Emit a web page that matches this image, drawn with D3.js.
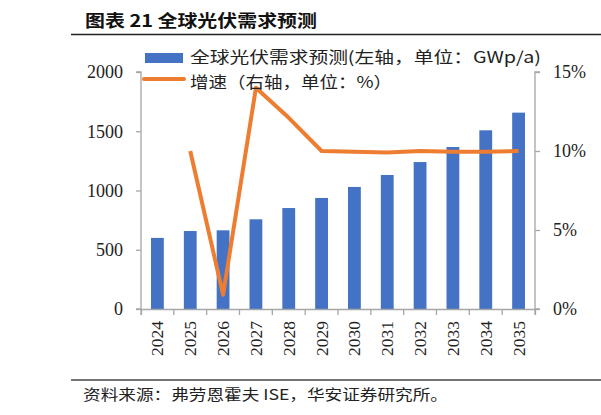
<!DOCTYPE html>
<html>
<head>
<meta charset="utf-8">
<script src="https://cdn.jsdelivr.net/npm/d3@7"></script>
<style>
body { margin: 0; background: #fff; }
</style>
</head>
<body>
<div id="chart"></div>
<script>
// data
var years = ["2024","2025","2026","2027","2028","2029","2030","2031","2032","2033","2034","2035"]
var demand = [600, 658, 664, 757, 852, 937, 1030, 1131, 1240, 1367, 1508, 1657]
var growthYears = ["2025","2026","2027","2028","2029","2030","2031","2032","2033","2034","2035"]
var growth = [10.0, 0.9, 14.0, 12.1, 10.0, 9.95, 9.9, 10.0, 9.95, 9.95, 10.0]
var leftTicks = [0, 500, 1000, 1500, 2000]
var rightTicks = [0, 5, 10, 15]

var width = 601, height = 415
var plotL = 141, plotR = 535, plotT = 72, plotB = 309

var svg = d3.select("#chart").append("svg")
    .attr("width", width)
    .attr("height", height)

var serif = "'Liberation Serif', 'Times New Roman', serif"
var cjk = "'Noto Sans CJK SC', sans-serif"

// header / footer
svg.append("text").attr("x", 85).attr("y", 27).text("图表 21 全球光伏需求预测")
    .attr("textLength", 232).attr("lengthAdjust", "spacingAndGlyphs")
    .style("font-family", cjk).style("font-size", "17px").style("font-weight", "bold").style("fill", "#111")
svg.append("line").attr("x1", 71).attr("x2", 601).attr("y1", 34.5).attr("y2", 34.5)
    .style("stroke", "#222").style("stroke-width", 1.5)
svg.append("line").attr("x1", 71).attr("x2", 601).attr("y1", 380).attr("y2", 380)
    .style("stroke", "#444").style("stroke-width", 1.5)
svg.append("text").attr("x", 83).attr("y", 400).text("资料来源：弗劳恩霍夫 ISE，华安证券研究所。")
    .attr("textLength", 365).attr("lengthAdjust", "spacingAndGlyphs")
    .style("font-family", cjk).style("font-size", "14.5px").style("fill", "#222")

var x = d3.scaleBand().domain(years).range([plotL, plotR]).paddingInner(0.61).paddingOuter(0.305)
var xb = d3.scaleBand().domain(years).range([plotL, plotR])
var y = d3.scaleLinear().domain([0, 2000]).range([plotB, plotT])
var y2 = d3.scaleLinear().domain([0, 15]).range([plotB, plotT])

// bars
svg.selectAll("rect.bar").data(demand).enter().append("rect")
    .attr("class", "bar")
    .attr("x", function(d, i) { return x(years[i]) })
    .attr("width", x.bandwidth())
    .attr("y", function(d) { return y(d) })
    .attr("height", function(d) { return plotB - y(d) })
    .style("fill", "#4472C4")

// axes
var axisColor = "#a6a6a6"
var gl = svg.append("g").attr("transform", "translate(" + plotL + ",0)")
    .call(d3.axisLeft(y).tickValues(leftTicks).tickSize(5).tickPadding(13).tickFormat(d3.format("d")))
var gr = svg.append("g").attr("transform", "translate(" + plotR + ",0)")
    .call(d3.axisRight(y2).tickValues(rightTicks).tickSize(5).tickPadding(13).tickFormat(function(d) { return d + "%" }))
var gx = svg.append("g").attr("transform", "translate(0," + plotB + ")")
    .call(d3.axisBottom(xb).tickSize(6).tickSizeOuter(6).tickFormat(""))

// tick marks between categories
gx.selectAll(".tick").remove()
gx.selectAll("line.sep").data(years.concat(["end"])).enter().append("line")
    .attr("class", "sep")
    .attr("x1", function(d, i) { return plotL + i * xb.step() })
    .attr("x2", function(d, i) { return plotL + i * xb.step() })
    .attr("y1", 0).attr("y2", 6)

;[gl, gr, gx].forEach(function(g) {
    g.attr("font-family", serif).attr("font-size", 18)
    g.selectAll("path, line").style("stroke", axisColor).style("stroke-width", 1.3)
    g.selectAll("text").style("font-family", serif).style("font-size", "18px").style("fill", "#222")
})
gl.select(".domain").attr("d", "M-5," + plotT + "H0V" + plotB + "H-5")
gr.select(".domain").attr("d", "M5," + plotT + "H0V" + plotB + "H5")

// year labels rotated
svg.selectAll("text.year").data(years).enter().append("text")
    .attr("class", "year")
    .attr("transform", function(d) { return "translate(" + (xb(d) + xb.bandwidth() / 2 + 6) + "," + (plotB + 12) + ") rotate(-90)" })
    .attr("text-anchor", "end")
    .text(function(d) { return d })
    .style("font-family", serif).style("font-size", "17.5px").style("fill", "#222")

// growth line
var line = d3.line()
    .x(function(d, i) { return xb(growthYears[i]) + xb.bandwidth() / 2 })
    .y(function(d) { return y2(d) })
svg.append("path").datum(growth).attr("d", line)
    .style("fill", "none").style("stroke", "#ED7D31").style("stroke-width", 4).style("stroke-linejoin", "round")

// legend
svg.append("rect").attr("x", 145).attr("y", 53).attr("width", 38).attr("height", 10).style("fill", "#4472C4")
svg.append("text").attr("x", 190).attr("y", 63).text("全球光伏需求预测(左轴，单位：GWp/a)")
    .attr("textLength", 351).attr("lengthAdjust", "spacingAndGlyphs")
    .style("font-family", cjk).style("font-size", "16px").style("fill", "#222")
svg.append("line").attr("x1", 144).attr("x2", 184).attr("y1", 79).attr("y2", 79)
    .style("stroke", "#ED7D31").style("stroke-width", 4).style("stroke-linecap", "round")
svg.append("text").attr("x", 190).attr("y", 88).text("增速（右轴，单位：%）")
    .attr("textLength", 202).attr("lengthAdjust", "spacingAndGlyphs")
    .style("font-family", cjk).style("font-size", "16px").style("fill", "#222")
</script>
</body>
</html>
